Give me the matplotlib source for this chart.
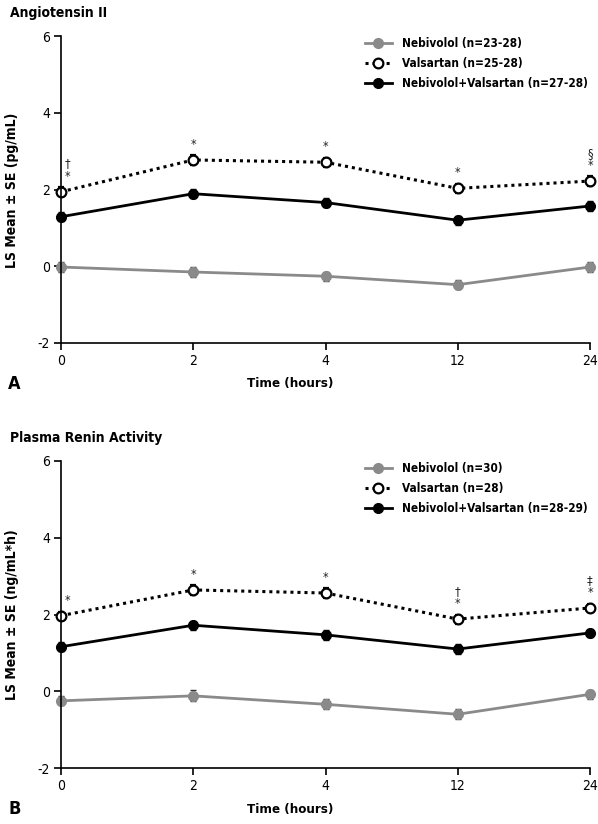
import matplotlib
matplotlib.use("Agg")
import matplotlib.pyplot as plt

plt.rcParams['font.family'] = ['DejaVu Sans']
plt.rcParams['font.stretch'] = 'condensed'

times = ['0', '2', '4', '12', '24']

# Panel A - Angiotensin II
a_neb = [-0.02, -0.15, -0.26, -0.48, -0.02]
a_neb_se = [0.12, 0.13, 0.12, 0.12, 0.13]
a_val = [1.94, 2.77, 2.71, 2.03, 2.22]
a_val_se = [0.12, 0.12, 0.12, 0.12, 0.12]
a_combo = [1.29, 1.89, 1.66, 1.20, 1.57]
a_combo_se = [0.12, 0.12, 0.12, 0.12, 0.12]
a_marks = [['†', '*'], ['*'], ['*'], ['*'], ['§', '*']]
a_labels = ['Nebivolol (n=23-28)', 'Valsartan (n=25-28)', 'Nebivolol+Valsartan (n=27-28)']

# Panel B - Plasma Renin Activity
b_neb = [-0.25, -0.12, -0.34, -0.60, -0.08]
b_neb_se = [0.12, 0.14, 0.13, 0.13, 0.12]
b_val = [1.97, 2.64, 2.56, 1.88, 2.17]
b_val_se = [0.10, 0.12, 0.12, 0.12, 0.11]
b_combo = [1.16, 1.72, 1.47, 1.10, 1.52]
b_combo_se = [0.12, 0.12, 0.13, 0.12, 0.11]
b_marks = [['*'], ['*'], ['*'], ['†', '*'], ['‡', '*']]
b_labels = ['Nebivolol (n=30)', 'Valsartan (n=28)', 'Nebivolol+Valsartan (n=28-29)']

W, H = 598, 824
fig = plt.figure(figsize=(W / 100, H / 100), dpi=100)

gray = '#8a8a8a'


def panel(top_px, title, ylabel, letter, neb, neb_se, val, val_se, combo, combo_se, marks, labels):
    bot_px = top_px + 307
    ax = fig.add_axes([61 / W, 1 - bot_px / H, 529 / W, 307 / H])
    x = list(range(len(times)))
    common = dict(capsize=2.5, elinewidth=1.0, capthick=1.0, clip_on=False, markersize=7)
    l1 = ax.errorbar(x, neb, yerr=neb_se, color=gray, ecolor='#333333', lw=2, marker='o',
                     **common)
    l2 = ax.errorbar(x, val, yerr=val_se, color='black', lw=2.2, ls=(0, (1, 1.3)), marker='o',
                     mfc='white', mec='black', mew=1.6, **common)
    l3 = ax.errorbar(x, combo, yerr=combo_se, color='black', lw=2, marker='o',
                     **common)
    for i, m in enumerate(marks):
        dx = 0.05 if i == 0 else 0
        base = val[i] + val_se[i] + 0.12
        for j, s in enumerate(reversed(m)):
            ax.text(x[i] + dx, base + j * 0.32, s, ha='center', va='bottom', fontsize=9,
                    color='#222222')
    ax.set_xlim(0, 4)
    ax.set_ylim(-2, 6)
    ax.set_xticks(x)
    ax.set_xticklabels(times)
    ax.set_yticks([-2, 0, 2, 4, 6])
    ax.set_yticklabels(['-2', '0', '2', '4', '6'])
    for s in ['top', 'right']:
        ax.spines[s].set_visible(False)
    for s in ['left', 'bottom']:
        ax.spines[s].set_linewidth(1.2)
    ax.tick_params(direction='out', length=5, width=1.2, labelsize=10, pad=3)
    ax.legend([l1[0], l2[0], l3[0]], labels, loc='upper left', frameon=False,
              bbox_to_anchor=(360 / W, 1 - (top_px - 4) / H), bbox_transform=fig.transFigure,
              prop={'weight': 'bold', 'size': 8.5, 'stretch': 'condensed'},
              handlelength=2.3, handletextpad=0.9,
              labelspacing=0.62, borderaxespad=0)
    fig.text(10 / W, 1 - (top_px - 23) / H, title, fontsize=10, fontweight='bold', va='center', ha='left')
    fig.text(12 / W, 1 - (top_px + 154) / H, ylabel, fontsize=10, fontweight='bold',
             rotation=90, va='center', ha='center')
    fig.text(8 / W, 1 - (bot_px + 41) / H, letter, fontsize=13, fontweight='bold', va='center', ha='left')
    fig.text(290 / W, 1 - (bot_px + 41) / H, 'Time (hours)', fontsize=9.5, fontweight='bold',
             va='center', ha='center')
    return ax


panel(36, 'Angiotensin II', 'LS Mean ± SE (pg/mL)', 'A',
      a_neb, a_neb_se, a_val, a_val_se, a_combo, a_combo_se, a_marks, a_labels)
panel(461, 'Plasma Renin Activity', 'LS Mean ± SE (ng/mL*h)', 'B',
      b_neb, b_neb_se, b_val, b_val_se, b_combo, b_combo_se, b_marks, b_labels)

fig.savefig('out.png', dpi=100)
